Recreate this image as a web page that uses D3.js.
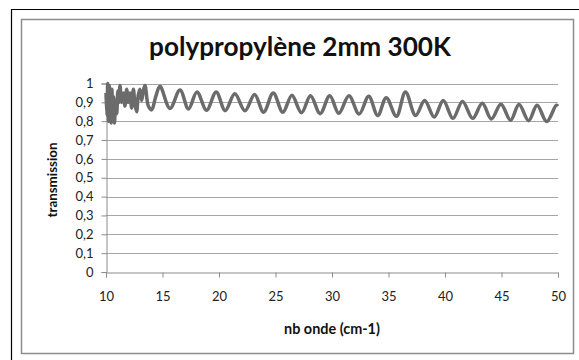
<!DOCTYPE html>
<html><head><meta charset="utf-8">
<script src="https://cdn.jsdelivr.net/npm/d3@7"></script>
<style>html,body{margin:0;padding:0;background:#fff;} svg{display:block;}</style>
</head><body>
<script>
// ---- data ----
const titleText = "polypropylène 2mm 300K";
const xLabel = "nb onde (cm-1)";
const yLabel = "transmission";
const xTicks = [10,15,20,25,30,35,40,45,50];
const yTicks = [0,0.1,0.2,0.3,0.4,0.5,0.6,0.7,0.8,0.9,1];
const wavenumber = [10.0,10.08,10.15,10.22,10.3,10.38,10.45,10.52,10.6,10.68,10.75,10.85,10.95,11.05,11.15,11.24,11.38,11.53,11.68,11.83,11.98,12.12,12.27,12.42,12.57,12.71,12.86,13.0,13.15,13.3,13.45,13.75,14.04,14.4,14.78,15.66,16.55,17.3,18.05,18.9,19.75,20.55,21.4,22.3,23.15,23.95,24.8,25.65,26.45,27.3,28.1,28.95,29.8,30.6,31.5,32.4,33.25,34.05,34.8,35.7,36.5,37.4,38.2,39.05,39.85,40.7,41.55,42.45,43.3,44.1,44.95,45.8,46.55,47.4,48.15,49.0,49.85,50.0];
const transmission = [0.95,0.83,1.0,0.80,0.99,0.82,0.79,0.97,0.80,0.93,0.79,0.90,0.84,0.96,0.90,0.99,0.90,0.95,0.88,0.97,0.90,0.95,0.87,0.97,0.89,0.85,0.94,0.97,0.91,0.96,0.99,0.88,0.86,0.93,0.985,0.868,0.965,0.865,0.955,0.858,0.955,0.856,0.945,0.855,0.942,0.848,0.95,0.847,0.937,0.845,0.935,0.84,0.935,0.842,0.935,0.838,0.932,0.83,0.925,0.826,0.955,0.83,0.91,0.822,0.91,0.815,0.905,0.815,0.895,0.812,0.89,0.805,0.888,0.803,0.885,0.798,0.885,0.88];

const W = 579, H = 360;
const svg = d3.select("body").append("svg").attr("width", W).attr("height", H);
svg.append("rect").attr("width", W).attr("height", H).attr("fill", "#fff");

// outer black frame (left and top)
svg.append("line").attr("x1",11.5).attr("y1",9.5).attr("x2",11.5).attr("y2",H).attr("stroke","#000").attr("stroke-width",1.2);
svg.append("line").attr("x1",11).attr("y1",9.5).attr("x2",W).attr("y2",9.5).attr("stroke","#000").attr("stroke-width",1.2);
// chart area border
svg.append("rect").attr("x",21.5).attr("y",19.5).attr("width",552).attr("height",334).attr("fill","#fff").attr("stroke","#8c8c8c").attr("stroke-width",1.5);

const x = d3.scaleLinear().domain([10,50]).range([106,558]);
const y = d3.scaleLinear().domain([0,1]).range([272,83.5]);

const font = "Lato, 'Open Sans', sans-serif";
function fitWidth(sel, target){
  const w = sel.node().getComputedTextLength();
  const fs = parseFloat(sel.attr("font-size"));
  sel.attr("font-size", fs*target/w);
}

// gridlines
svg.append("g").selectAll("line").data(yTicks.filter(d=>d>0)).join("line")
  .attr("x1",x(10)).attr("x2",x(50)).attr("y1",d=>Math.round(y(d))+0.5).attr("y2",d=>Math.round(y(d))+0.5)
  .attr("stroke","#a6a6a6").attr("stroke-width",1);

// y axis
const yAxis = svg.append("g").attr("transform","translate(106.5,0)")
  .call(d3.axisLeft(y).tickValues(yTicks).tickSize(5).tickPadding(8).tickFormat(d=>d3.format(".1~f")(d).replace(".",",")));
yAxis.select(".domain").attr("stroke","#8c8c8c");
yAxis.selectAll(".tick line").attr("stroke","#8c8c8c");
yAxis.selectAll("text").attr("font-family",font).attr("font-size",13).attr("fill","#222");

// x axis
const xAxis = svg.append("g").attr("transform","translate(0,272.5)")
  .call(d3.axisBottom(x).tickValues(xTicks).tickSize(5).tickPadding(14));
xAxis.select(".domain").attr("stroke","#8c8c8c");
xAxis.selectAll(".tick line").attr("stroke","#8c8c8c");
xAxis.selectAll("text").attr("font-family",font).attr("font-size",13).attr("fill","#222");

// data line
const pts = wavenumber.map((w,i)=>[w, transmission[i]]);
svg.append("path").datum(pts)
  .attr("d", d3.line().x(d=>x(d[0])).y(d=>y(d[1])).curve(d3.curveCatmullRom.alpha(0.5)))
  .attr("fill","none").attr("stroke","#6b6b6b").attr("stroke-width",3.5).attr("stroke-linejoin","round");

// title
const t = svg.append("text").attr("x",300).attr("y",56).attr("text-anchor","middle")
  .attr("font-family",font).attr("font-weight","bold").attr("font-size",26).attr("fill","#111").text(titleText);
fitWidth(t, 302);

// axis labels
const xl = svg.append("text").attr("x",332).attr("y",334).attr("text-anchor","middle")
  .attr("font-family",font).attr("font-weight","bold").attr("font-size",14).attr("fill","#111").text(xLabel);
fitWidth(xl, 96);
const yl = svg.append("text").attr("transform","translate(57,180) rotate(-90)").attr("text-anchor","middle")
  .attr("font-family",font).attr("font-weight","bold").attr("font-size",14).attr("fill","#111").text(yLabel);
fitWidth(yl, 75);
</script>
</body></html>
